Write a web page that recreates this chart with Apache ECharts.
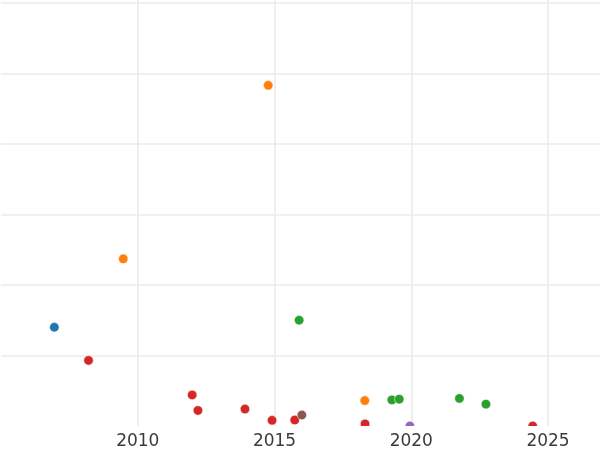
<!DOCTYPE html>
<html>
<head>
<meta charset="utf-8">
<script src="https://cdn.jsdelivr.net/npm/echarts@6/dist/echarts.min.js"></script>
<style>
  html, body { margin: 0; padding: 0; background: #fff; }
  #chart { width: 600px; height: 450px; }
</style>
</head>
<body>
<div id="chart"></div>
<script>
// groups, one per colour, years and values
const groups = ['A', 'B', 'C', 'D', 'E', 'F']
const colors = ['#1f77b4', '#ff7f0e', '#2ca02c', '#d62728', '#9467bd', '#8c564b']

const yearsA = [2006.95]
const valuesA = [1.40]

const yearsB = [2014.77, 2009.47, 2018.30]
const valuesB = [4.83, 2.37, 0.36]

const yearsC = [2015.9, 2019.29, 2019.56, 2021.76, 2022.73]
const valuesC = [1.50, 0.37, 0.38, 0.39, 0.31]

const yearsD = [2008.2, 2011.99, 2012.2, 2013.92, 2014.91, 2015.74, 2018.31, 2024.44]
const valuesD = [0.93, 0.44, 0.22, 0.24, 0.08, 0.085, 0.03, 0.0]

const yearsE = [2019.95]
const valuesE = [0.0]

const yearsF = [2016.0]
const valuesF = [0.156]

const xTicks = [2010, 2015, 2020, 2025]

const allYears = [yearsA, yearsB, yearsC, yearsD, yearsE, yearsF]
const allValues = [valuesA, valuesB, valuesC, valuesD, valuesE, valuesF]

let chart = echarts.init(document.getElementById('chart'))

let series = groups.map(function (g, i) {
  return {
    name: g,
    type: 'scatter',
    clip: true,
    symbolSize: 9.5,
    itemStyle: {
      color: colors[i],
      opacity: 1,
      borderColor: '#fff',
      borderWidth: 0.5,
    },
    data: allYears[i].map(function (y, j) {
      return [y, allValues[i][j]]
    }),
  }
})

let option = {
  animation: false,
  grid: {
    left: 1,
    right: 0,
    top: 0,
    bottom: 23,
  },
  xAxis: {
    type: 'value',
    min: 2005,
    max: 2026.9,
    interval: 5,
    axisLine: { show: false },
    axisTick: { show: false },
    axisLabel: {
      margin: 7,
      fontSize: 17,
      fontFamily: 'DejaVu Sans',
      color: '#3b3b3b',
      showMinLabel: false,
      showMaxLabel: false,
      formatter: function (v) {
        return xTicks.indexOf(v) >= 0 ? String(v) : ''
      },
    },
    splitLine: {
      show: true,
      showMinLine: false,
      showMaxLine: false,
      lineStyle: { color: '#ebebeb', width: 1.6 },
    },
  },
  yAxis: {
    type: 'value',
    min: 0,
    max: 6.04,
    interval: 1,
    axisLine: { show: false },
    axisTick: { show: false },
    axisLabel: { show: false },
    splitLine: {
      show: true,
      showMinLine: false,
      showMaxLine: false,
      lineStyle: { color: '#ebebeb', width: 1.6 },
    },
  },
  series: series,
}

chart.setOption(option)

// the plot area cuts the markers at its lower edge; mask the part below it
let bottomY = chart.convertToPixel({ gridIndex: 0 }, [2005, 0])[1]
chart.setOption({
  graphic: [
    {
      type: 'rect',
      z: 100,
      silent: true,
      shape: { x: 0, y: bottomY, width: 600, height: 6 },
      style: { fill: '#fff' },
    },
  ],
})
</script>
</body>
</html>
